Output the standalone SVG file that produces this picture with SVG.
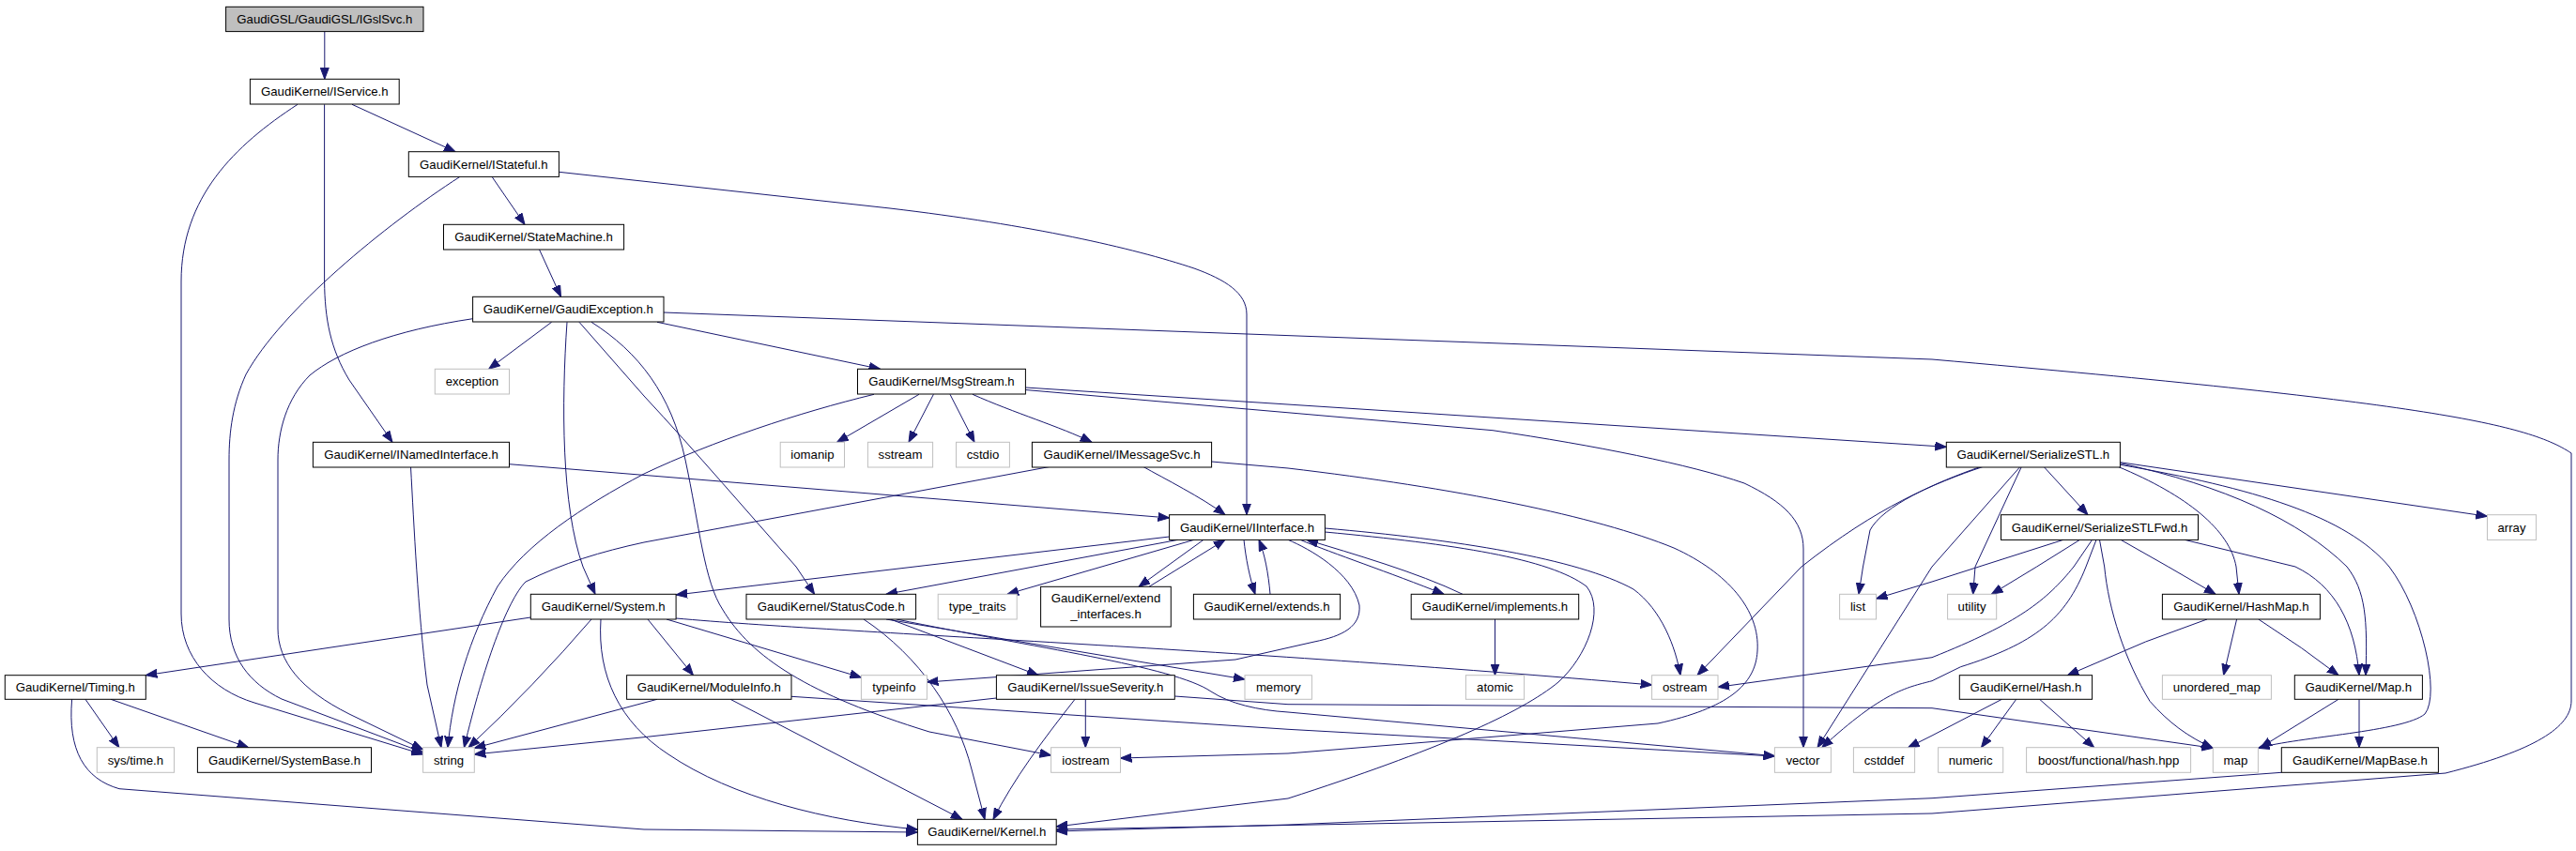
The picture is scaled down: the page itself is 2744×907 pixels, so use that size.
<svg xmlns="http://www.w3.org/2000/svg" width="2744" height="907" viewBox="0 0 2744 907">
<style>
rect{fill:#fff;stroke:#000;stroke-width:1}
.x rect{stroke:#bfbfbf}
.r rect{fill:#bfbfbf}
text{font-family:"Liberation Sans",Arial,sans-serif;font-size:13.2px;text-anchor:middle;fill:#000}
#edges path{fill:none;stroke:#191970;stroke-width:1;marker-end:url(#a)}
</style>
<defs>
<marker id="a" markerUnits="userSpaceOnUse" markerWidth="13" markerHeight="10" refX="12" refY="5" orient="auto"><path d="M0,0.5 L12,5 L0,9.5 z" fill="#191970" stroke="#191970" stroke-width="1"/></marker>
</defs>
<rect x="0" y="0" width="2744" height="907" style="fill:#fff;stroke:none"/>
<g id="edges">
<path d="M345.8,33.3 L345.8,84.3"/>
<path d="M375,111.3 L485,161.7"/>
<path d="M345.6,111.3 L345.6,300 C346,340 352,372 372,405 L418,471.3"/>
<path d="M317,111.3 C250,155 193,210 193,300 L193,654 C193,700 225,735 271,749 L450.6,804"/>
<path d="M524,188.3 L559,239.3"/>
<path d="M595.4,183.3 L948,222 C1100,240 1206,264 1272,286 C1305,298 1328,312 1328,335 L1328,548.7"/>
<path d="M490,188.3 C410,240 300,330 262,399 C248,430 244,460 244,490 L244,660 C244,700 265,728 300,745 L450.6,802"/>
<path d="M574.4,265.7 L597.5,316.3"/>
<path d="M587.6,343.3 L520.6,393.3"/>
<path d="M503.6,339.7 C420,352 360,375 330,400 C305,425 296,460 296,490 L296,670 C296,705 320,735 372,761 L450.6,799"/>
<path d="M604,343.3 C598,430 598,540 621,604 L634,633.3"/>
<path d="M617,343.3 L686,422 C740,480 800,550 848,604 L867.6,633.3"/>
<path d="M630,343.3 C680,375 715,420 730,490 C745,560 750,620 770,650 C800,700 860,740 990,780 L1119.6,805"/>
<path d="M700,343.3 L937.6,393.3"/>
<path d="M707,333 L2058,383 C2570,428 2690,450 2739,483 L2739,747 C2739,775 2700,800 2605,824 L2058,867 L1125.2,884"/>
<path d="M979,420.3 L891.6,471.3"/>
<path d="M994.4,420.3 L968,471.3"/>
<path d="M1012,420.3 L1038,471.3"/>
<path d="M1036,420.3 C1080,440 1130,455 1163,471.3"/>
<path d="M931,420.3 C850,440 760,470 686,505 C620,540 560,580 530,625 C500,680 482,740 477,796.7"/>
<path d="M1092.4,413 L2073.3,476.3"/>
<path d="M1092.4,415.5 L1590,458.7 C1700,475 1800,495 1858,515 C1900,535 1921,555 1921,585 L1921,796.7"/>
<path d="M1217.6,497.3 C1240,510 1280,530 1305,548.7"/>
<path d="M1119,497.3 L686,578 C640,588 600,600 560,620 C540,640 515,710 494.4,796.7"/>
<path d="M1290.6,492 L1372,499 C1550,520 1700,550 1783,584 C1840,610 1875,650 1872,694 C1870,730 1840,755 1766,771 L1372,803 L1193.5,808"/>
<path d="M542.5,494.7 L1245.6,552"/>
<path d="M437.5,497.3 C441,560 445,650 455,730 L470,796.7"/>
<path d="M1245.6,572 L720.1,634"/>
<path d="M1255,575.3 L944,633.3"/>
<path d="M1272,575.3 L1073,633.3"/>
<path d="M1282,575.3 L1213,625.3"/>
<path d="M1224,625.3 L1305,575.3"/>
<path d="M1325,575.3 C1327,595 1331,615 1337,633.3"/>
<path d="M1353,633.3 C1351,610 1347,590 1341,575.3"/>
<path d="M1372,575.3 C1395,585 1440,610 1448,645 C1450,668 1430,678 1400,684 L1316,703 L987.4,727"/>
<path d="M1385,575.3 C1420,590 1480,610 1538,633.3"/>
<path d="M1558,633.3 C1510,610 1440,590 1392,575.3"/>
<path d="M1411.4,563 C1550,575 1680,595 1740,628 C1770,650 1785,690 1790,719.7"/>
<path d="M1411.4,567 C1550,580 1650,595 1690,625 C1710,650 1690,700 1660,727 C1620,760 1530,800 1372,851 L1125.2,881"/>
<path d="M565.3,658 L155.3,719.7"/>
<path d="M630,660 Q570,730 499,796.7"/>
<path d="M640,660 C636,720 660,770 712,804 C780,850 880,875 977.4,884"/>
<path d="M690,660 L738.5,719.7"/>
<path d="M710,660 L917.4,722"/>
<path d="M720.1,659 C900,675 1300,690 1759.6,730"/>
<path d="M944,660 L1326,724"/>
<path d="M948.5,660 L1106,719.7"/>
<path d="M920,660 C980,700 1020,760 1035,820 L1049,873.3"/>
<path d="M955,660 C1100,690 1250,710 1290,737 C1310,750 1340,757 1372,759 L1890.4,805.7"/>
<path d="M1156.3,745.3 L1156.3,796.7"/>
<path d="M1145,745.3 C1110,790 1080,830 1058,873.3"/>
<path d="M1061.4,744 L686,785.7 L505.3,804"/>
<path d="M1251.3,742 L1372,750.7 L2058,754.7 L2357.3,797.3"/>
<path d="M700,745.3 L505.3,797.3"/>
<path d="M778,745.3 L1025,873.3"/>
<path d="M843,742.3 L1372,777.3 L1890.4,806"/>
<path d="M91,745.3 L126.9,796.7"/>
<path d="M118,745.3 L264.7,796.7"/>
<path d="M76.6,745.3 C72,800 90,830 127,840.7 L686,884 L977.4,887"/>
<path d="M1592.5,660 L1592.5,719.7"/>
<path d="M2258.4,492.7 L2649.5,550.3"/>
<path d="M2177,497.3 L2224,548.7"/>
<path d="M2112.7,497.3 C2060,515 2000,540 1919,604 L1808,719.7"/>
<path d="M2110,497.3 C2060,515 2006,539 1992,565 L1984.5,604 L1980,633.3"/>
<path d="M2152,497.3 L2058,604 L1936,796.7"/>
<path d="M2153.4,497.3 L2104,604 L2101.7,633.3"/>
<path d="M2256,497.3 C2330,528 2375,565 2382,604 L2385,633.3"/>
<path d="M2258.4,493.7 C2370,518 2450,555 2500,604 C2520,630 2522,660 2520,719.7"/>
<path d="M2258.4,495.3 C2400,520 2500,550 2545,604 C2580,650 2600,740 2583,761 C2560,780 2450,785 2405.4,797.3"/>
<path d="M2198,575.3 L2108,604 L2058,620 L1998.5,638"/>
<path d="M2215.5,575.3 L2169.6,604 L2121.4,633.3"/>
<path d="M2228.6,575.3 L2209,604 C2180,640 2150,664 2058,700.7 L1830,732.3"/>
<path d="M2233,575.3 L2222,604 C2200,660 2167,686 2088.6,710.7 L2058,725.7 C2030,733 2006,737 1940.7,796.7"/>
<path d="M2236.5,575.3 L2241.7,604 C2246,650 2263.6,704 2290,747.3 C2310,770 2330,785 2357.3,797.3"/>
<path d="M2259,575.3 L2309.6,604 L2360,633.3"/>
<path d="M2327,575.3 L2445,604 C2486.7,624 2508.6,664 2513,719.7"/>
<path d="M2351,660 L2285.5,684 L2202.4,719.7"/>
<path d="M2382.6,660 L2368.6,719.7"/>
<path d="M2405.8,660 L2451.7,690.7 L2491,719.7"/>
<path d="M2147.7,745.3 L2110.5,796.7"/>
<path d="M2172.6,745.3 L2230.8,796.7"/>
<path d="M2132.4,745.3 L2058,784 L2032.6,796.7"/>
<path d="M2491,745.3 L2408,796.7"/>
<path d="M2513,745.3 L2513,796.7"/>
<path d="M2430.3,823.3 L2058,850.7 L1372,879 L1125.2,886"/>
</g>
<g id="n0" class="r"><rect x="240.6" y="7.3" width="210.4" height="26.3"/><text x="345.8" y="25">GaudiGSL/GaudiGSL/IGslSvc.h</text></g>
<g id="n1"><rect x="266.4" y="84.3" width="158.8" height="26.7"/><text x="345.8" y="102.3">GaudiKernel/IService.h</text></g>
<g id="n2"><rect x="435.3" y="161.7" width="160.1" height="26.7"/><text x="515.3" y="179.7">GaudiKernel/IStateful.h</text></g>
<g id="n3"><rect x="472.5" y="239.3" width="192.1" height="26.7"/><text x="568.5" y="257.3">GaudiKernel/StateMachine.h</text></g>
<g id="n4"><rect x="503.6" y="316.3" width="203.4" height="26.7"/><text x="605.3" y="334.3">GaudiKernel/GaudiException.h</text></g>
<g id="n5" class="x"><rect x="463.3" y="393.3" width="79.2" height="26.7"/><text x="502.9" y="411.3">exception</text></g>
<g id="n6"><rect x="913.5" y="393.3" width="178.9" height="26.7"/><text x="1003" y="411.3">GaudiKernel/MsgStream.h</text></g>
<g id="n7"><rect x="333.4" y="471.3" width="209.1" height="26.7"/><text x="438" y="489.3">GaudiKernel/INamedInterface.h</text></g>
<g id="n8" class="x"><rect x="831.2" y="471.3" width="68.3" height="26.7"/><text x="865.4" y="489.3">iomanip</text></g>
<g id="n9" class="x"><rect x="924.4" y="471.3" width="69.2" height="26.7"/><text x="959" y="489.3">sstream</text></g>
<g id="n10" class="x"><rect x="1018.5" y="471.3" width="56.9" height="26.7"/><text x="1047" y="489.3">cstdio</text></g>
<g id="n11"><rect x="1099.4" y="471.3" width="191.2" height="26.7"/><text x="1195" y="489.3">GaudiKernel/IMessageSvc.h</text></g>
<g id="n12"><rect x="2073.3" y="471.3" width="185.1" height="26.7"/><text x="2165.8" y="489.3">GaudiKernel/SerializeSTL.h</text></g>
<g id="n13"><rect x="1245.6" y="548.7" width="165.8" height="26.7"/><text x="1328.5" y="566.7">GaudiKernel/IInterface.h</text></g>
<g id="n14"><rect x="2131.5" y="548.7" width="210" height="26.7"/><text x="2236.5" y="566.7">GaudiKernel/SerializeSTLFwd.h</text></g>
<g id="n15" class="x"><rect x="2649.5" y="548.7" width="52.1" height="26.7"/><text x="2675.5" y="566.7">array</text></g>
<g id="n16"><rect x="565.3" y="633.3" width="154.8" height="26.7"/><text x="642.7" y="651.3">GaudiKernel/System.h</text></g>
<g id="n17"><rect x="795" y="633.3" width="180.6" height="26.7"/><text x="885.3" y="651.3">GaudiKernel/StatusCode.h</text></g>
<g id="n18" class="x"><rect x="999.2" y="633.3" width="84" height="26.7"/><text x="1041.2" y="651.3">type_traits</text></g>
<g id="n19"><rect x="1108.6" y="625.3" width="138.7" height="42.7"/><text x="1178" y="642.3">GaudiKernel/extend</text><text x="1178" y="658.8">_interfaces.h</text></g>
<g id="n20"><rect x="1271.4" y="633.3" width="156.2" height="26.7"/><text x="1349.5" y="651.3">GaudiKernel/extends.h</text></g>
<g id="n21"><rect x="1503.2" y="633.3" width="178.5" height="26.7"/><text x="1592.5" y="651.3">GaudiKernel/implements.h</text></g>
<g id="n22" class="x"><rect x="1959.6" y="633.3" width="38.9" height="26.7"/><text x="1979" y="651.3">list</text></g>
<g id="n23" class="x"><rect x="2074.6" y="633.3" width="52.1" height="26.7"/><text x="2100.6" y="651.3">utility</text></g>
<g id="n24"><rect x="2303.4" y="633.3" width="168" height="26.7"/><text x="2387.4" y="651.3">GaudiKernel/HashMap.h</text></g>
<g id="n25"><rect x="5.3" y="719.7" width="150" height="25.6"/><text x="80.3" y="737.2">GaudiKernel/Timing.h</text></g>
<g id="n26"><rect x="667.6" y="719.7" width="175.4" height="25.6"/><text x="755.3" y="737.2">GaudiKernel/ModuleInfo.h</text></g>
<g id="n27" class="x"><rect x="917.4" y="719.7" width="70" height="25.6"/><text x="952.4" y="737.2">typeinfo</text></g>
<g id="n28"><rect x="1061.4" y="719.7" width="189.9" height="25.6"/><text x="1156.3" y="737.2">GaudiKernel/IssueSeverity.h</text></g>
<g id="n29" class="x"><rect x="1326" y="719.7" width="71.4" height="25.6"/><text x="1361.7" y="737.2">memory</text></g>
<g id="n30" class="x"><rect x="1561.4" y="719.7" width="62.2" height="25.6"/><text x="1592.5" y="737.2">atomic</text></g>
<g id="n31" class="x"><rect x="1759.6" y="719.7" width="70.4" height="25.6"/><text x="1794.8" y="737.2">ostream</text></g>
<g id="n32"><rect x="2087.3" y="719.7" width="141.3" height="25.6"/><text x="2158" y="737.2">GaudiKernel/Hash.h</text></g>
<g id="n33" class="x"><rect x="2303.4" y="719.7" width="116" height="25.6"/><text x="2361.4" y="737.2">unordered_map</text></g>
<g id="n34"><rect x="2444.3" y="719.7" width="136.1" height="25.6"/><text x="2512.3" y="737.2">GaudiKernel/Map.h</text></g>
<g id="n35" class="x"><rect x="103.3" y="796.7" width="82.2" height="26.6"/><text x="144.4" y="814.7">sys/time.h</text></g>
<g id="n36"><rect x="210.4" y="796.7" width="185.1" height="26.6"/><text x="303" y="814.7">GaudiKernel/SystemBase.h</text></g>
<g id="n37" class="x"><rect x="450.6" y="796.7" width="54.7" height="26.6"/><text x="478" y="814.7">string</text></g>
<g id="n38" class="x"><rect x="1119.6" y="796.7" width="73.9" height="26.6"/><text x="1156.5" y="814.7">iostream</text></g>
<g id="n39" class="x"><rect x="1890.4" y="796.7" width="60" height="26.6"/><text x="1920.4" y="814.7">vector</text></g>
<g id="n40" class="x"><rect x="1974.4" y="796.7" width="65.2" height="26.6"/><text x="2007" y="814.7">cstddef</text></g>
<g id="n41" class="x"><rect x="2064.6" y="796.7" width="69.1" height="26.6"/><text x="2099.2" y="814.7">numeric</text></g>
<g id="n42" class="x"><rect x="2158.6" y="796.7" width="175" height="26.6"/><text x="2246.1" y="814.7">boost/functional/hash.hpp</text></g>
<g id="n43" class="x"><rect x="2357.3" y="796.7" width="48.1" height="26.6"/><text x="2381.4" y="814.7">map</text></g>
<g id="n44"><rect x="2430.3" y="796.7" width="167.1" height="26.6"/><text x="2513.9" y="814.7">GaudiKernel/MapBase.h</text></g>
<g id="n45"><rect x="977.4" y="873.3" width="147.8" height="27"/><text x="1051.3" y="891.3">GaudiKernel/Kernel.h</text></g>
</svg>
